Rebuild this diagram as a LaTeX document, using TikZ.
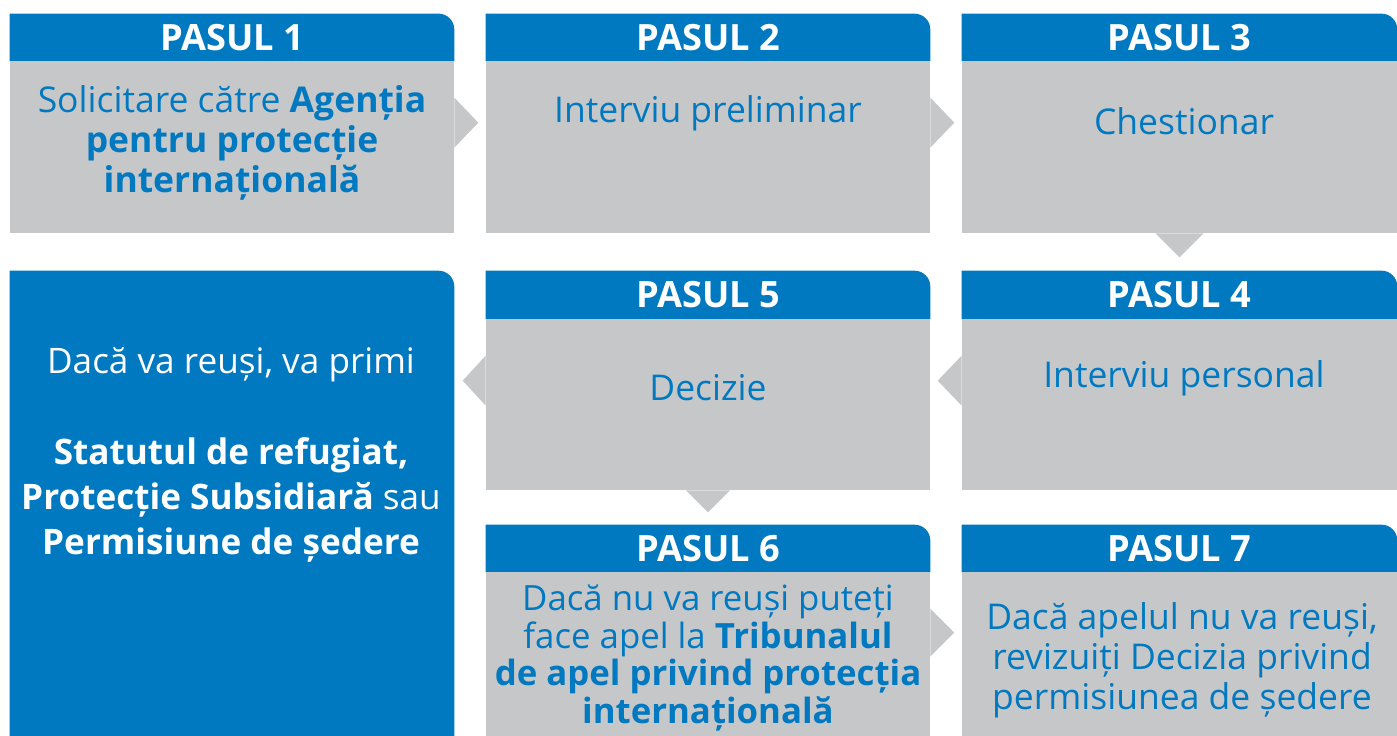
\documentclass[tikz,border=0pt]{standalone}
\usepackage{fontspec}
\setmainfont{Open Sans}
\usetikzlibrary{backgrounds}
\definecolor{pasblue}{RGB}{0,121,193}
\definecolor{pasgray}{RGB}{198,199,201}

\begin{document}
\begin{tikzpicture}[x=0.02cm,y=-0.02cm]
			\tikzset{tab/.style = {shape=rectangle,inner sep=0pt,minimum width=8.88cm,minimum height=0.94cm,text=white,font=\fontsize{20.6}{24}\selectfont\bfseries}}
			
			\tikzset{body/.style = {shape=rectangle,fill=pasgray,inner sep=0pt,minimum width=8.88cm,minimum height=3.44cm}}
			
			\tikzset{steptext/.style = {align=center,text=pasblue,font=\fontsize{20.2}{22.7}\selectfont}}
			
			\tikzset{pointer/.style = {fill=pasgray}}
			
			\useasboundingbox (0,0) rectangle (1397,736);
			
			% headers
			
			\node[tab] (h1) at (232,37.5) {PASUL 1};
			
			\node[tab] (h2) at (708,37.5) {PASUL 2};
			
			\node[tab,minimum width=8.7cm] (h3) at (1179.5,37.5) {PASUL 3};
			
			\node[tab,minimum height=0.96cm] (h5) at (708,295) {PASUL 5};
			
			\node[tab,minimum width=8.7cm,minimum height=0.96cm] (h4) at (1179.5,295) {PASUL 4};
			
			\node[tab] (h6) at (708,548.5) {PASUL 6};
			
			\node[tab,minimum width=8.7cm] (h7) at (1179.5,548.5) {PASUL 7};
			
			% boxes
			
			\node[body] (b1) at (232,147) {};
			
			\node[body] (b2) at (708,147) {};
			
			\node[body,minimum width=8.7cm] (b3) at (1179.5,147) {};
			
			\node[body,minimum height=3.42cm] (b5) at (708,404.5) {};
			
			\node[body,minimum width=8.7cm,minimum height=3.42cm] (b4) at (1179.5,404.5) {};
			
			\node[body,minimum height=3.28cm] (b6) at (708,654) {};
			
			\node[body,minimum width=8.7cm,minimum height=3.28cm] (b7) at (1179.5,654) {};
			
			\node[shape=rectangle,inner sep=0pt,minimum width=8.88cm,minimum height=9.3cm] (res) at (232,503.5) {};
			
			\begin{scope}[on background layer]
			\foreach \h in {h1,h2,h3,h4,h5,h6,h7,res}
			\fill[pasblue] (\h.south west) -- (\h.north west) -- ([xshift=-9pt]\h.north east) arc[start angle=90,end angle=0,radius=9pt] -- (\h.south east) -- cycle;
			\end{scope}
			
			% pointers
			
			\fill[pointer] (b1.north east) ++(0,37) -- ++(24,25) -- ++(-24,25) -- cycle;
			\fill[pointer] (b2.north east) ++(0,37) -- ++(24,25) -- ++(-24,25) -- cycle;
			\fill[pointer] (b3.south) ++(-24,0) -- ++(24,24) -- ++(24,-24) -- cycle;
			\fill[pointer] (b4.north west) ++(0,37) -- ++(-24,25) -- ++(24,25) -- cycle;
			\fill[pointer] (b5.north west) ++(0,37) -- ++(-23,25) -- ++(23,25) -- cycle;
			\fill[pointer] (b5.south) ++(-22,0) -- ++(22,22) -- ++(22,-22) -- cycle;
			\fill[pointer] (b6.north east) ++(0,37) -- ++(24,24) -- ++(-24,24) -- cycle;
			
			% texts
			
			\node[steptext] (t1) at (232,143) {Solicitare către \textbf{Agenția}\\\textbf{pentru protecție}\\\textbf{internațională}};
			
			\node[steptext] (t2) at (708,113) {Interviu preliminar};
			
			\node[steptext] (t3) at (1184,121) {Chestionar};
			
			\node[steptext] (t4) at (1184,378) {Interviu personal};
			
			\node[steptext] (t5) at (708,388) {Decizie};
			
			\node[steptext,font=\fontsize{19.8}{21.3}\selectfont] (t6) at (708,658) {Dacă nu va reuși puteți\\face apel la \textbf{Tribunalul}\\\textbf{de apel privind protecția}\\\textbf{internațională}};
			
			\node[steptext] (t7) at (1182,660) {Dacă apelul nu va reuși,\\revizuiți Decizia privind\\permisiunea de ședere};
			
			\node[steptext,text=white,font=\fontsize{20}{25.8}\selectfont] (tr) at (231,455) {Dacă va reuși, va primi\\[25.8pt]\textbf{Statutul de refugiat,}\\\textbf{Protecție Subsidiară} sau\\\textbf{Permisiune de ședere}};
			\end{tikzpicture}
\end{document}
